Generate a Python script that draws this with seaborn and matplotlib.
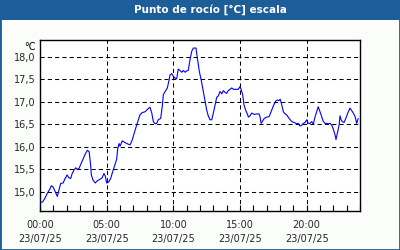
import matplotlib
matplotlib.use("Agg")
import matplotlib.pyplot as plt
from matplotlib.patches import Rectangle
from matplotlib.ticker import MultipleLocator, FixedLocator
import seaborn as sns
import numpy as np

# ---- data (minutes after 00:00 on 23/07/25, dew point in °C) ----
time_min = [3, 12, 21, 33, 44, 51, 59, 69, 78, 93, 104, 111, 122, 129, 138, 144, 153, 161, 168, 176,
            183, 194, 204, 213, 221, 228, 231, 239, 249, 258, 269, 279, 288, 294, 300, 309, 318, 327,
            345, 350, 356, 360, 370, 383, 395, 405, 415, 428, 440, 450, 460, 473, 485, 495, 503, 510,
            518, 525, 532, 543, 550, 555, 563, 573, 581, 585, 593, 600,
            608, 615, 622, 630, 638, 645, 653, 660, 667, 675, 683, 690, 702, 708, 717, 728, 735, 743,
            750, 757, 765, 773, 780, 788, 795, 802, 810, 818, 825, 833, 840, 847, 855, 863, 870, 885,
            892, 900, 905, 912, 918,
            925, 932, 938, 945, 953, 964, 975, 986, 990, 995, 1000, 1009, 1020, 1031, 1040, 1050, 1061,
            1068, 1076, 1081, 1088, 1095, 1103, 1110, 1121, 1133, 1144, 1155, 1162, 1170, 1178, 1185,
            1193, 1200, 1207, 1215, 1223, 1230, 1238, 1245, 1252, 1260, 1268, 1275, 1283, 1290, 1297,
            1305, 1313, 1320, 1328, 1332, 1338, 1346, 1350, 1355, 1360, 1368, 1376, 1385, 1395, 1403,
            1410, 1418, 1425, 1432]
dew_point = [14.75, 14.77, 14.84, 14.96, 15.05, 15.13, 15.10, 14.99, 14.89, 15.18, 15.19, 15.27, 15.37,
             15.31, 15.29, 15.39, 15.48, 15.53, 15.49, 15.52, 15.60, 15.72, 15.84, 15.92, 15.89, 15.59,
             15.37, 15.25, 15.19, 15.24, 15.27, 15.30, 15.40, 15.34, 15.19, 15.21, 15.29, 15.44,
             15.72, 15.96, 16.07, 16.01, 16.13, 16.09, 16.06, 16.04, 16.15, 16.37, 16.56, 16.71, 16.76,
             16.78, 16.84, 16.88, 16.75, 16.56, 16.51, 16.52, 16.60, 16.63, 16.89, 17.16, 17.23, 17.31,
             17.49, 17.60, 17.63, 17.57,
             17.53, 17.51, 17.73, 17.70, 17.66, 17.70, 17.66, 17.69, 17.70, 17.94, 18.13, 18.20, 18.20,
             17.98, 17.68, 17.42, 17.23, 17.01, 16.82, 16.69, 16.60, 16.60, 16.75, 16.93, 17.10, 17.13,
             17.23, 17.18, 17.25, 17.21, 17.19, 17.25, 17.28, 17.31, 17.28, 17.28, 17.28, 17.34, 17.28,
             17.16, 16.93,
             16.82, 16.74, 16.66, 16.69, 16.75, 16.72, 16.73, 16.73, 16.67, 16.52, 16.56, 16.63, 16.66,
             16.67, 16.78, 16.91, 17.02, 17.04, 17.03, 17.06, 16.93, 16.78, 16.73, 16.71, 16.63, 16.56,
             16.54, 16.51, 16.52, 16.46, 16.48, 16.52, 16.54, 16.60, 16.52, 16.52, 16.56, 16.50, 16.67,
             16.78, 16.89, 16.78, 16.66, 16.56, 16.52, 16.52, 16.51, 16.52, 16.48, 16.39, 16.26, 16.16,
             16.30, 16.48, 16.69, 16.60, 16.56, 16.54, 16.63, 16.75, 16.86, 16.80, 16.75, 16.67, 16.52,
             16.63]
x_tick_hours = [0, 5, 10, 15, 20]
x_tick_labels = ["00:00\n23/07/25", "05:00\n23/07/25", "10:00\n23/07/25",
                 "15:00\n23/07/25", "20:00\n23/07/25"]
y_ticks = [15.0, 15.5, 16.0, 16.5, 17.0, 17.5, 18.0]

title = "Punto de rocío [°C] escala"
unit = "°C"

BLUE = "#1d5e98"

sns.set_style("white")
plt.rcParams["font.family"] = ["DejaVu Sans"]

hours = np.array(time_min) / 60.0

fig = plt.figure(figsize=(4, 2.5), dpi=100, facecolor="#fbfdfb")
ax = fig.add_axes([40 / 400, 1 - 211 / 250, 320 / 400, 171 / 250])
ax.set_facecolor("white")

sns.lineplot(x=hours, y=dew_point, ax=ax, color="#0000ff", linewidth=0.8, zorder=3)

ax.set_xlim(0, 24)
ax.set_ylim(14.565, 18.38)

ax.xaxis.set_major_locator(FixedLocator(x_tick_hours))
ax.set_xticklabels(x_tick_labels)
ax.xaxis.set_minor_locator(MultipleLocator(1))
ax.yaxis.set_major_locator(FixedLocator(y_ticks))
ax.set_yticklabels([f"{v:.1f}".replace(".", ",") for v in y_ticks])

ax.grid(True, which="major", color="black", linestyle=(0, (4, 3)), linewidth=0.75, zorder=1)
ax.set_axisbelow(True)

ax.tick_params(axis="x", which="both", direction="in", length=4, width=0.8, color="black",
               bottom=True, top=False, labelsize=7, pad=6.5)
ax.tick_params(axis="y", which="both", length=0, labelsize=7, pad=3)
for lab in ax.get_xticklabels():
    lab.set_linespacing(1.55)

for s in ax.spines.values():
    s.set_color("black")
    s.set_linewidth(1.0)

ax.set_xlabel("")
ax.set_ylabel("")

ax.annotate(unit, xy=(0, 1), xycoords="axes fraction", xytext=(-3, -5), textcoords="offset points",
            ha="right", va="center", fontsize=7, color="black")

# title bar and frame
fig.patches.append(Rectangle((0, 1 - 20 / 250), 1, 20 / 250, transform=fig.transFigure,
                             facecolor=BLUE, edgecolor="none", zorder=0))
fig.patches.append(Rectangle((0, 0), 1, 1, transform=fig.transFigure, fill=False,
                             edgecolor=BLUE, linewidth=2, zorder=5))
fig.text(0.525, 1 - 10 / 250, title, ha="center", va="center", color="white",
         fontweight="bold", fontsize=7.5, family="DejaVu Sans")

fig.savefig("out.png", dpi=100, facecolor=fig.get_facecolor())
